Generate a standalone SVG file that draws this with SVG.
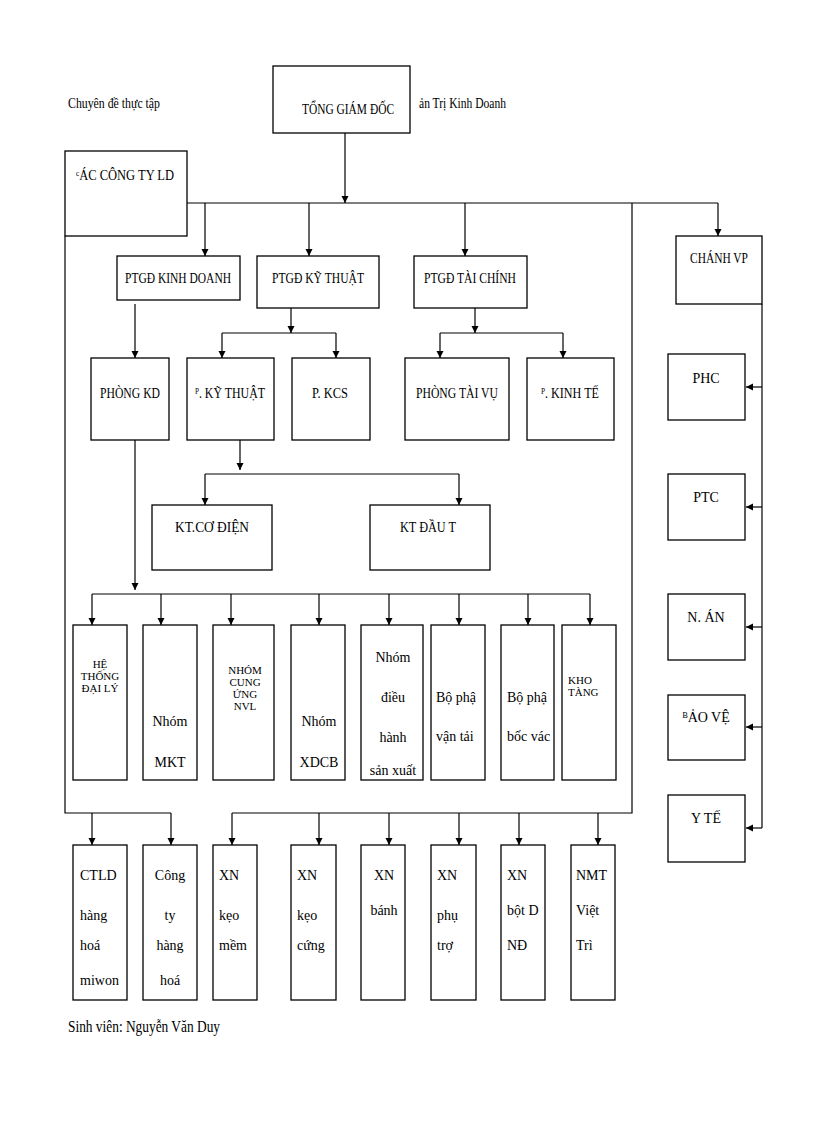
<svg xmlns="http://www.w3.org/2000/svg" width="816" height="1123" viewBox="0 0 816 1123">
<style>
text{font-family:"Liberation Serif",serif;font-size:14px;fill:#000}
.c{text-anchor:middle}
.s{font-size:11px}
rect{fill:#fff;stroke:#000;stroke-width:1.3}
.l{fill:none;stroke:#000;stroke-width:1.2}
</style>
<defs><marker id="a" viewBox="0 0 10 10" refX="10" refY="5" markerWidth="7" markerHeight="9" orient="auto" markerUnits="userSpaceOnUse"><path d="M0,0L10,5L0,10z" fill="#000"/></marker></defs>
<text x="68" y="108" textLength="92" lengthAdjust="spacingAndGlyphs">Chuyên đề thực tập</text>
<text x="419" y="108" textLength="87" lengthAdjust="spacingAndGlyphs">ản Trị Kinh Doanh</text>
<text x="68" y="1032" textLength="152" lengthAdjust="spacingAndGlyphs" style="font-size:16px">Sinh viên: Nguyễn Văn Duy</text>
<g id="connectors" class="l">
<path class="l" d="M65,236V813H171M232,813H632V203M187,203H718"/>
<path class="l" marker-end="url(#a)" d="M345,133V203"/>
<path class="l" marker-end="url(#a)" d="M205,203V256"/>
<path class="l" marker-end="url(#a)" d="M309,203V256"/>
<path class="l" marker-end="url(#a)" d="M465,203V256"/>
<path class="l" marker-end="url(#a)" d="M718,203V236"/>
<path class="l" marker-end="url(#a)" d="M135,304V358"/>
<path class="l" marker-end="url(#a)" d="M291,308V333"/>
<path class="l" d="M222,333H336"/>
<path class="l" marker-end="url(#a)" d="M222,333V358"/>
<path class="l" marker-end="url(#a)" d="M336,333V358"/>
<path class="l" marker-end="url(#a)" d="M475,308V333"/>
<path class="l" d="M440,333H563"/>
<path class="l" marker-end="url(#a)" d="M440,333V358"/>
<path class="l" marker-end="url(#a)" d="M563,333V358"/>
<path class="l" marker-end="url(#a)" d="M240,440V470"/>
<path class="l" d="M205,474H459"/>
<path class="l" marker-end="url(#a)" d="M205,474V505"/>
<path class="l" marker-end="url(#a)" d="M459,474V505"/>
<path class="l" marker-end="url(#a)" d="M135,440V590"/>
<path class="l" d="M92,594H590"/>
<path class="l" marker-end="url(#a)" d="M92,594V625"/>
<path class="l" marker-end="url(#a)" d="M161,594V625"/>
<path class="l" marker-end="url(#a)" d="M231,594V625"/>
<path class="l" marker-end="url(#a)" d="M319,594V625"/>
<path class="l" marker-end="url(#a)" d="M389,594V625"/>
<path class="l" marker-end="url(#a)" d="M459,594V625"/>
<path class="l" marker-end="url(#a)" d="M528,594V625"/>
<path class="l" marker-end="url(#a)" d="M590,594V625"/>
<path class="l" marker-end="url(#a)" d="M92,813V845"/>
<path class="l" marker-end="url(#a)" d="M171,813V845"/>
<path class="l" marker-end="url(#a)" d="M232,813V845"/>
<path class="l" marker-end="url(#a)" d="M319,813V845"/>
<path class="l" marker-end="url(#a)" d="M389,813V845"/>
<path class="l" marker-end="url(#a)" d="M459,813V845"/>
<path class="l" marker-end="url(#a)" d="M519,813V845"/>
<path class="l" marker-end="url(#a)" d="M598,813V845"/>
<path class="l" d="M762,304V828"/>
<path class="l" marker-end="url(#a)" d="M762,387H746"/>
<path class="l" marker-end="url(#a)" d="M762,507H746"/>
<path class="l" marker-end="url(#a)" d="M762,627H746"/>
<path class="l" marker-end="url(#a)" d="M762,727H746"/>
<path class="l" marker-end="url(#a)" d="M762,828H746"/>
</g>
<g id="tgd"><rect x="273" y="66" width="137" height="67"/><text class="c" x="348" y="114" textLength="92" lengthAdjust="spacingAndGlyphs">TỔNG GIÁM ĐỐC</text></g>
<g id="ctld"><rect x="65" y="151" width="122" height="85"/><text x="76" y="180" textLength="98" lengthAdjust="spacingAndGlyphs">ᶜÁC CÔNG TY LD</text></g>
<g id="ptgdkd"><rect x="117" y="256" width="123" height="44"/><text class="c" x="178" y="283" textLength="106" lengthAdjust="spacingAndGlyphs">PTGĐ KINH DOANH</text></g>
<g id="ptgdkt"><rect x="257" y="256" width="122" height="52"/><text class="c" x="318" y="283" textLength="92" lengthAdjust="spacingAndGlyphs">PTGĐ KỸ THUẬT</text></g>
<g id="ptgdtc"><rect x="414" y="256" width="113" height="52"/><text class="c" x="470" y="283" textLength="92" lengthAdjust="spacingAndGlyphs">PTGĐ TÀI CHÍNH</text></g>
<g id="chanhvp"><rect x="676" y="236" width="86" height="68"/><text class="c" x="719" y="263" textLength="58" lengthAdjust="spacingAndGlyphs">CHÁNH VP</text></g>
<g id="phongkd"><rect x="91" y="358" width="78" height="82"/><text class="c" x="130" y="398" textLength="60" lengthAdjust="spacingAndGlyphs">PHÒNG KD</text></g>
<g id="pkt"><rect x="187" y="358" width="87" height="82"/><text class="c" x="230" y="398" textLength="70" lengthAdjust="spacingAndGlyphs">ᴾ. KỸ THUẬT</text></g>
<g id="pkcs"><rect x="292" y="358" width="78" height="82"/><text class="c" x="330" y="398" textLength="36" lengthAdjust="spacingAndGlyphs">P. KCS</text></g>
<g id="ptv"><rect x="405" y="358" width="104" height="82"/><text class="c" x="457" y="398" textLength="82" lengthAdjust="spacingAndGlyphs">PHÒNG TÀI VỤ</text></g>
<g id="pkte"><rect x="527" y="358" width="87" height="82"/><text class="c" x="570" y="398" textLength="58" lengthAdjust="spacingAndGlyphs">ᴾ. KINH TẾ</text></g>
<g id="ktcd"><rect x="152" y="505" width="120" height="65"/><text class="c" x="212" y="532" textLength="74" lengthAdjust="spacingAndGlyphs">KT.CƠ ĐIỆN</text></g>
<g id="ktdt"><rect x="370" y="505" width="120" height="65"/><text class="c" x="428" y="532" textLength="56" lengthAdjust="spacingAndGlyphs">KT ĐẦU T</text></g>
<g id="phc"><rect x="668" y="354" width="77" height="66"/><text class="c" x="706" y="383">PHC</text></g>
<g id="ptc"><rect x="668" y="474" width="77" height="66"/><text class="c" x="706" y="502">PTC</text></g>
<g id="nan"><rect x="668" y="594" width="77" height="66"/><text class="c" x="706" y="622">N. ÁN</text></g>
<g id="baove"><rect x="668" y="695" width="77" height="65"/><text class="c" x="706" y="722">ᴮẢO VỆ</text></g>
<g id="yte"><rect x="668" y="795" width="77" height="67"/><text class="c" x="706" y="823">Y TẾ</text></g>
<g id="htdl"><rect x="73" y="625" width="54" height="155"/><text class="c s" x="100" y="668">HỆ</text><text class="c s" x="100" y="680">THỐNG</text><text class="c s" x="100" y="692">ĐẠI LÝ</text></g>
<g id="mkt"><rect x="143" y="625" width="54" height="155"/><text class="c" x="170" y="726">Nhóm</text><text class="c" x="170" y="767">MKT</text></g>
<g id="nvl"><rect x="213" y="625" width="61" height="155"/><text class="c s" x="245" y="674">NHÓM</text><text class="c s" x="245" y="686">CUNG</text><text class="c s" x="245" y="698">ỨNG</text><text class="c s" x="245" y="710">NVL</text></g>
<g id="xdcb"><rect x="291" y="625" width="54" height="155"/><text class="c" x="319" y="726">Nhóm</text><text class="c" x="319" y="767">XDCB</text></g>
<g id="dhsx"><rect x="361" y="625" width="62" height="155"/><text class="c" x="393" y="662">Nhóm</text><text class="c" x="393" y="702">điều</text><text class="c" x="393" y="742">hành</text><text class="c" x="393" y="775">sản xuất</text></g>
<g id="vt"><rect x="431" y="625" width="54" height="155"/><text x="436" y="702">Bộ phậ</text><text x="436" y="741">vận tải</text></g>
<g id="bv"><rect x="501" y="625" width="53" height="155"/><text x="507" y="702">Bộ phậ</text><text x="507" y="741">bốc vác</text></g>
<g id="kho"><rect x="562" y="625" width="54" height="155"/><text class="s" x="568" y="684">KHO</text><text class="s" x="568" y="696">TÀNG</text></g>
<g id="ctld2"><rect x="73" y="845" width="54" height="155"/><text x="80" y="880">CTLD</text><text x="80" y="920">hàng</text><text x="80" y="950">hoá</text><text x="80" y="985">miwon</text></g>
<g id="ctyhh"><rect x="143" y="845" width="54" height="155"/><text class="c" x="170" y="880">Công</text><text class="c" x="170" y="920">ty</text><text class="c" x="170" y="950">hàng</text><text class="c" x="170" y="985">hoá</text></g>
<g id="xnkm"><rect x="213" y="845" width="44" height="155"/><text x="219" y="880">XN</text><text x="219" y="920">kẹo</text><text x="219" y="950">mềm</text></g>
<g id="xnkc"><rect x="291" y="845" width="45" height="155"/><text x="297" y="880">XN</text><text x="297" y="920">kẹo</text><text x="297" y="950">cứng</text></g>
<g id="xnb"><rect x="361" y="845" width="44" height="155"/><text class="c" x="384" y="880">XN</text><text class="c" x="384" y="915">bánh</text></g>
<g id="xnpt"><rect x="431" y="845" width="45" height="155"/><text x="437" y="880">XN</text><text x="437" y="920">phụ</text><text x="437" y="950">trợ</text></g>
<g id="xnbd"><rect x="501" y="845" width="44" height="155"/><text x="507" y="880">XN</text><text x="507" y="915">bột D</text><text x="507" y="950">NĐ</text></g>
<g id="nmt"><rect x="571" y="845" width="44" height="155"/><text x="576" y="880">NMT</text><text x="576" y="915">Việt</text><text x="576" y="950">Trì</text></g>
</svg>
